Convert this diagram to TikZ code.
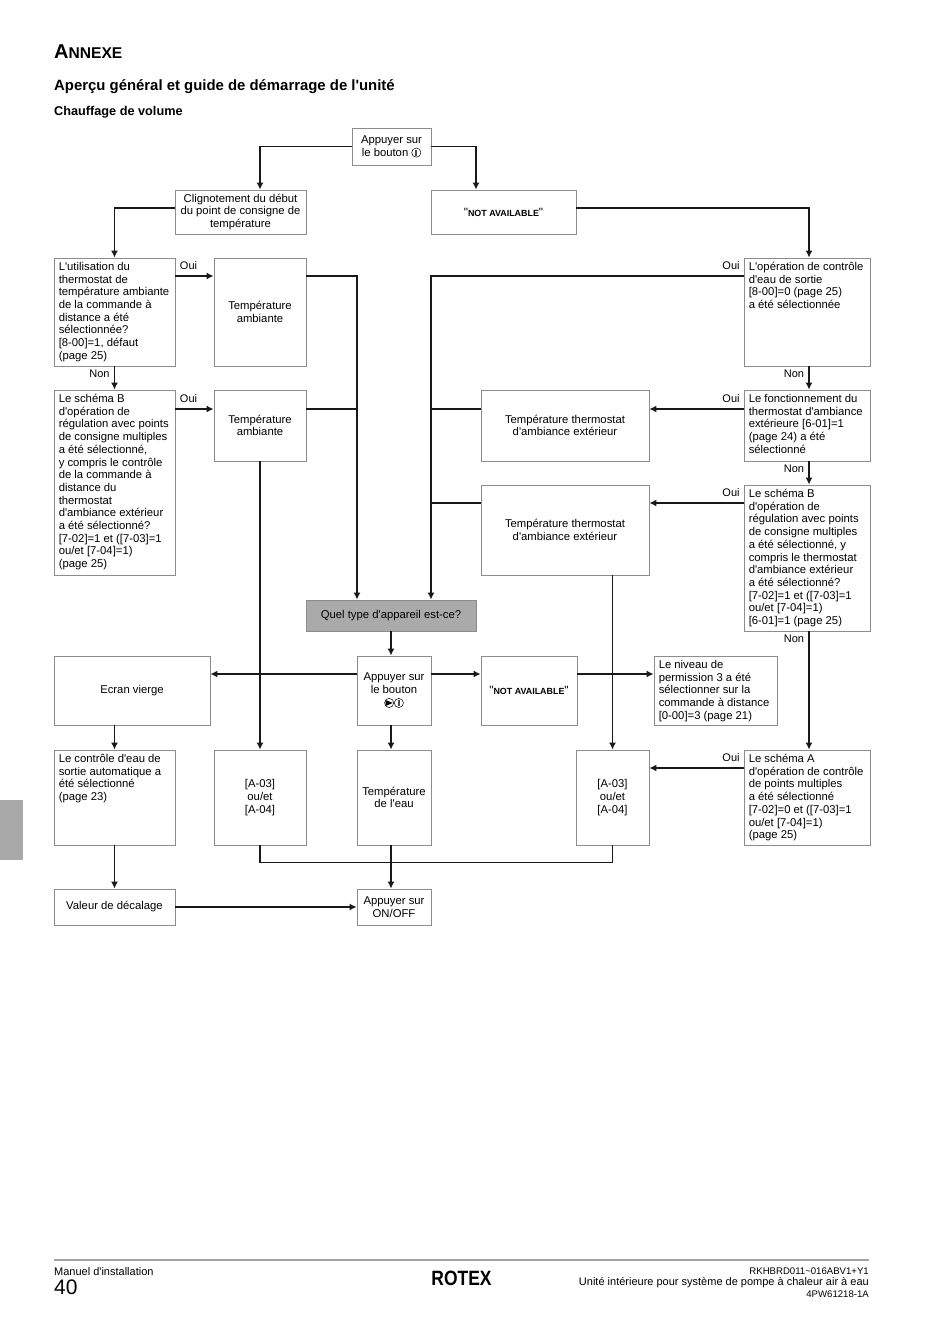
\documentclass[tikz,border=0pt]{standalone}
\usepackage{fontspec}
\setmainfont[Ligatures=TeXOff]{Liberation Sans}
\usetikzlibrary{arrows.meta, positioning, calc}
\definecolor{boxline}{RGB}{140,140,140}
\definecolor{flowline}{RGB}{25,25,25}
\definecolor{questionfill}{RGB}{170,170,170}
\definecolor{tabgray}{RGB}{168,168,168}
\newcommand{\powericon}{\tikz[baseline=-3.4pt, x=1pt, y=1pt]{\draw[line width=0.5pt] (0,0) circle (4.6); \fill[black!70] (-0.9,-3) rectangle (0.9,3);}}
\newcommand{\playicon}{\tikz[baseline=-3.4pt, x=1pt, y=1pt]{\draw[line width=0.5pt] (0,0) circle (4.6); \fill (-3.6,-3) -- (3.6,0) -- (-3.6,3) -- cycle;}}
\newcommand{\notavailable}{{\fontsize{12}{12}\selectfont "}{\bfseries\fontsize{8.9}{10}\selectfont NOT AVAILABLE}{\fontsize{12}{12}\selectfont "}}
\tikzset{
    flowbox/.style={draw=boxline, line width=0.9pt, inner sep=0pt, align=center, font=\fontsize{11.3}{12.7}\selectfont},
    leftbox/.style={anchor=north west, inner sep=0pt, xshift=5pt, yshift=-4.5pt, align=left, font=\fontsize{11.3}{12.7}\selectfont},
    flow/.style={draw=flowline, line width=1.25pt},
    flowarrow/.style={flow, -{Latex[length=7pt, width=7pt]}},
    answer/.style={inner sep=0pt, font=\fontsize{11}{12}\selectfont},
    footnote/.style={inner sep=0pt, font=\fontsize{9.6}{12}\selectfont}
}
\begin{document}
\begin{tikzpicture}[x=1pt, y=-1pt]
    \useasboundingbox (0,0) rectangle (950,1344);

    % Headings
    \node (title) at (54,52) [anchor=west, inner sep=0pt, font=\bfseries\fontsize{20}{20}\selectfont] {A{\fontsize{15.6}{16}\selectfont NNEXE}};
    \node (subtitle) at (54,87) [anchor=west, inner sep=0pt, font=\bfseries\fontsize{14.9}{16}\selectfont] {Aperçu général et guide de démarrage de l'unité};
    \node (section) at (54,112) [anchor=west, inner sep=0pt, font=\bfseries\fontsize{12.7}{14}\selectfont] {Chauffage de volume};
    \fill[tabgray] (0,800) rectangle (23,860);

    % Top row
    \node (start) at (391.5,146.5) [flowbox, minimum width=79, minimum height=37] {Appuyer sur\\le bouton \powericon};
    \node (blink) at (240.5,212) [flowbox, minimum width=131, minimum height=44] {Clignotement du début\\du point de consigne de\\température};
    \node (navaila) at (503.5,212) [flowbox, minimum width=145, minimum height=44] {\notavailable};

    % Left column
    \node (remote) at (114.5,312) [flowbox, minimum width=121, minimum height=108] {};
    \node (remotetext) at (remote.north west) [leftbox] {L'utilisation du\\thermostat de\\température ambiante\\de la commande à\\distance a été\\sélectionnée?\\{[8-00]}=1, défaut\\(page 25)};
    \node (schemeleft) at (114.5,482.5) [flowbox, minimum width=121, minimum height=185] {};
    \node (schemelefttext) at (schemeleft.north west) [leftbox] {Le schéma B\\d'opération de\\régulation avec points\\de consigne multiples\\a été sélectionné,\\y compris le contrôle\\de la commande à\\distance du\\thermostat\\d'ambiance extérieur\\a été sélectionné?\\{[7-02]}=1 et ([7-03]=1\\ou/et [7-04]=1)\\(page 25)};
    \node (ambienta) at (260,312) [flowbox, minimum width=92, minimum height=108] {Température\\ambiante};
    \node (ambientb) at (260,425.5) [flowbox, minimum width=92, minimum height=71] {Température\\ambiante};

    % Right column
    \node (control) at (807,312) [flowbox, minimum width=126, minimum height=108] {};
    \node (controltext) at (control.north west) [leftbox] {L'opération de contrôle\\d'eau de sortie\\{[8-00]}=0 (page 25)\\a été sélectionnée};
    \node (thermo) at (807,425.5) [flowbox, minimum width=126, minimum height=71] {};
    \node (thermotext) at (thermo.north west) [leftbox] {Le fonctionnement du\\thermostat d'ambiance\\extérieure [6-01]=1\\(page 24) a été\\sélectionné};
    \node (schemeright) at (807,558) [flowbox, minimum width=126, minimum height=146] {};
    \node (schemerighttext) at (schemeright.north west) [leftbox] {Le schéma B\\d'opération de\\régulation avec points\\de consigne multiples\\a été sélectionné, y\\compris le thermostat\\d'ambiance extérieur\\a été sélectionné?\\{[7-02]}=1 et ([7-03]=1\\ou/et [7-04]=1)\\{[6-01]}=1 (page 25)};
    \node (schemea) at (807,797.5) [flowbox, minimum width=126, minimum height=95] {};
    \node (schemeatext) at (schemea.north west) [leftbox] {Le schéma A\\d'opération de contrôle\\de points multiples\\a été sélectionné\\{[7-02]}=0 et ([7-03]=1\\ou/et [7-04]=1)\\(page 25)};
    \node (extera) at (565,425.5) [flowbox, minimum width=168, minimum height=71] {Température thermostat\\d'ambiance extérieur};
    \node (exterb) at (565,530) [flowbox, minimum width=168, minimum height=90] {Température thermostat\\d'ambiance extérieur};

    % Middle rows
    \node (question) at (391,615.5) [flowbox, fill=questionfill, minimum width=170, minimum height=31] {Quel type d'appareil est-ce?};
    \node (blank) at (132,690.5) [flowbox, minimum width=156, minimum height=69] {Ecran vierge};
    \node (press) at (394,690.5) [flowbox, minimum width=74, minimum height=69] {Appuyer sur\\le bouton\\\playicon\powericon};
    \node (navailb) at (529,690.5) [flowbox, minimum width=96, minimum height=69] {\notavailable};
    \node (level) at (715.5,690.5) [flowbox, minimum width=123, minimum height=69] {};
    \node (leveltext) at (level.north west) [leftbox] {Le niveau de\\permission 3 a été\\sélectionner sur la\\commande à distance\\{[0-00]}=3 (page 21)};

    % Lower rows
    \node (auto) at (114.5,797.5) [flowbox, minimum width=121, minimum height=95] {};
    \node (autotext) at (auto.north west) [leftbox] {Le contrôle d'eau de\\sortie automatique a\\été sélectionné\\(page 23)};
    \node (rangea) at (260,797.5) [flowbox, minimum width=92, minimum height=95] {[A-03]\\ou/et\\{[A-04]}};
    \node (water) at (394,797.5) [flowbox, minimum width=74, minimum height=95] {Température\\de l'eau};
    \node (rangeb) at (612.5,797.5) [flowbox, minimum width=73, minimum height=95] {[A-03]\\ou/et\\{[A-04]}};
    \node (offset) at (114.5,907) [flowbox, minimum width=121, minimum height=36] {Valeur de décalage};
    \node (onoff) at (394,907) [flowbox, minimum width=74, minimum height=36] {Appuyer sur\\ON/OFF};

    % Connectors at the top
    \draw[flowarrow] (start.west) -| ([xshift=19.5pt]blink.north);
    \draw[flowarrow] (start.east) -| ([xshift=-27.5pt]navaila.north);
    \draw[flowarrow] ([yshift=4pt]blink.west) -| (remote.north);
    \draw[flowarrow] ([yshift=4pt]navaila.east) -| ([xshift=2pt]control.north);

    % Oui branches
    \draw[flowarrow] ([yshift=36pt]remote.east) -- ([yshift=36pt]ambienta.west);
    \draw[flowarrow] ([yshift=73.5pt]schemeleft.east) -- ([yshift=16.5pt]ambientb.west);
    \draw[flowarrow] ([yshift=16.5pt]thermo.west) -- ([yshift=16.5pt]extera.east);
    \draw[flowarrow] ([yshift=27pt]exterb.east -| schemeright.west) -- ([yshift=27pt]exterb.east);
    \draw[flowarrow] ([yshift=29.5pt]schemea.west) -- ([yshift=29.5pt]rangeb.east);

    % Non branches
    \draw[flowarrow] (remote.south) -- (schemeleft.north);
    \draw[flowarrow] ([xshift=2pt]control.south) -- ([xshift=2pt]thermo.north);
    \draw[flowarrow] ([xshift=2pt]thermo.south) -- ([xshift=2pt]schemeright.north);
    \draw[flowarrow] ([xshift=2pt]schemeright.south) -- ([xshift=2pt]schemea.north);

    % Into the question box
    \coordinate (leftbus) at ($(question.north)+(-34,0)$);
    \coordinate (rightbus) at ($(question.north)+(40,0)$);
    \draw[flowarrow] ([yshift=36pt]ambienta.east) -| (leftbus);
    \draw[flow] ([yshift=16.5pt]ambientb.east) -- ([yshift=16.5pt]ambientb.east -| leftbus);
    \draw[flowarrow] ([yshift=36pt]control.west) -| (rightbus);
    \draw[flow] ([yshift=16.5pt]extera.west) -- ([yshift=16.5pt]extera.west -| rightbus);
    \draw[flow] ([yshift=27pt]exterb.west) -- ([yshift=27pt]exterb.west -| rightbus);

    % Long verticals
    \draw[flowarrow] (ambientb.south) -- (rangea.north);
    \draw[flowarrow] (exterb.south -| rangeb.north) -- (rangeb.north);

    % Around the press box
    \draw[flowarrow] (question.south) -- (question.south |- press.north);
    \draw[flowarrow] ([yshift=16.5pt]press.west) -- ([yshift=16.5pt]blank.east);
    \draw[flowarrow] ([yshift=16.5pt]press.east) -- ([yshift=16.5pt]navailb.west);
    \draw[flowarrow] ([yshift=16.5pt]navailb.east) -- ([yshift=16.5pt]level.west);
    \draw[flowarrow] (blank.south -| auto.north) -- (auto.north);
    \draw[flowarrow] (question.south |- press.south) -- (question.south |- water.north);

    % Bottom
    \draw[flowarrow] (auto.south) -- (offset.north);
    \draw[flowarrow] (offset.east) -- (onoff.west);
    \draw[flowarrow] (question.south |- water.south) -- (question.south |- onoff.north);
    \draw[flow] (rangea.south) |- ($(onoff.north)+(0,-26)$) -| (rangeb.south);

    % Oui / Non labels
    \node (ouia) at (188.5,266) [answer] {Oui};
    \node (ouib) at (188.5,398.5) [answer] {Oui};
    \node (ouic) at (731,266) [answer] {Oui};
    \node (ouid) at (731,398.5) [answer] {Oui};
    \node (ouie) at (731,493) [answer] {Oui};
    \node (ouif) at (731,758) [answer] {Oui};
    \node (nona) at (99.5,374) [answer] {Non};
    \node (nonb) at (794,374) [answer] {Non};
    \node (nonc) at (794,468.5) [answer] {Non};
    \node (nond) at (794,639) [answer] {Non};

    % Footer
    \draw[boxline!80, line width=2pt] (54,1260) -- (869,1260);
    \node (manual) at (54,1271.5) [anchor=west, answer] {Manuel d'installation};
    \node (pagenum) at (54,1287.5) [anchor=west, inner sep=0pt, font=\fontsize{21}{22}\selectfont] {40};
    \node (logo) at (461.5,1278.5) [inner sep=0pt, font=\bfseries\fontsize{18}{20}\selectfont] {\scalebox{0.97}[1.15]{ROTEX}};
    \node (model) at (869,1271.5) [anchor=east, footnote] {RKHBRD011\textasciitilde016ABV1+Y1};
    \node (unit) at (869,1283) [anchor=east, answer] {Unité intérieure pour système de pompe à chaleur air à eau};
    \node (docnum) at (869,1294.5) [anchor=east, footnote] {4PW61218-1A};
\end{tikzpicture}
\end{document}
